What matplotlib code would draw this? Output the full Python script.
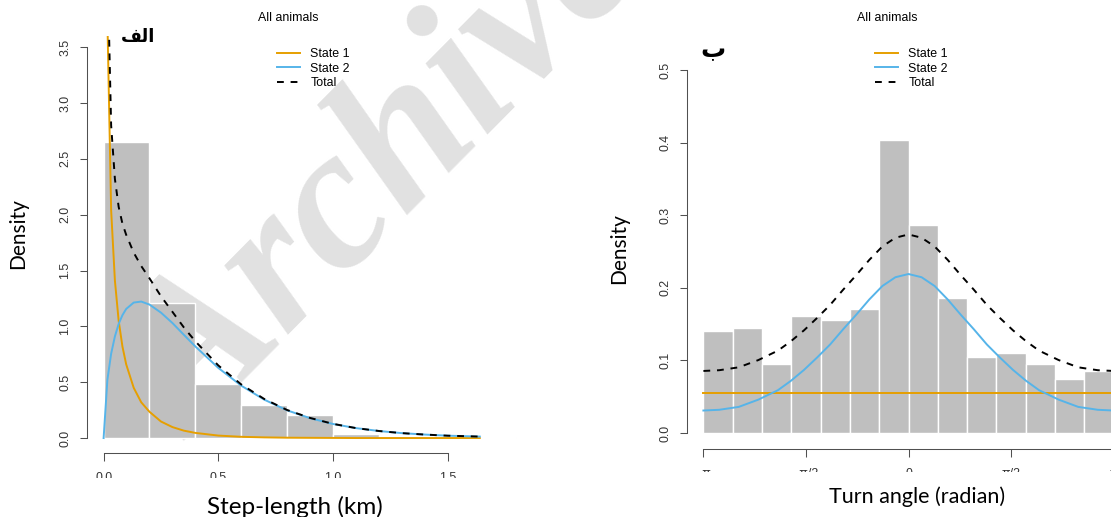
import numpy as np
import matplotlib.pyplot as plt
from matplotlib.patches import Rectangle

# ---- data ----------------------------------------------------------------
# step-length histogram (density), bins of 0.2 km
step_edges = [0.0, 0.2, 0.4, 0.6, 0.8, 1.0, 1.2, 1.4, 1.6, 1.8]
step_dens = [2.65, 1.205, 0.48, 0.298, 0.206, 0.034, 0.018, 0.012, 0.008]

# fitted step-length densities (weighted by state)
step_x = [0.0, 0.0164, 0.0328, 0.0492, 0.0656, 0.082, 0.0984, 0.1312, 0.164,
          0.2, 0.25, 0.3, 0.35, 0.4, 0.5, 0.6, 0.7, 0.8, 0.9, 1.0, 1.1,
          1.2, 1.3, 1.4, 1.5, 1.64]
step_s1 = [np.nan, 3.75, 2.04, 1.41, 1.05, 0.82, 0.66, 0.45, 0.32,
           0.235, 0.148, 0.098, 0.066, 0.046, 0.022, 0.011, 0.006, 0.003,
           0.002, 0.001, 0.0, 0.0, 0.0, 0.0, 0.0, 0.0]
step_s2 = [0.0, 0.52, 0.755, 0.91, 1.022, 1.10, 1.156, 1.213, 1.222,
           1.195, 1.123, 1.03, 0.924, 0.82, 0.628, 0.469, 0.344, 0.248,
           0.178, 0.126, 0.089, 0.063, 0.044, 0.031, 0.021, 0.013]
step_tot = [np.nan, 4.27, 2.80, 2.32, 2.07, 1.92, 1.82, 1.66, 1.54,
            1.43, 1.27, 1.13, 0.99, 0.866, 0.65, 0.48, 0.35, 0.251,
            0.18, 0.127, 0.089, 0.063, 0.044, 0.031, 0.021, 0.013]

# turn-angle histogram (density), 14 bins from -pi to pi
angle_dens = [0.140, 0.145, 0.095, 0.161, 0.155, 0.171, 0.404,
              0.287, 0.186, 0.105, 0.110, 0.095, 0.074, 0.085]

# fitted turn-angle densities
angle_x = [-3.1416, -2.9, -2.6, -2.3, -2.0, -1.8, -1.6, -1.4, -1.2, -1.0,
           -0.8, -0.6, -0.4, -0.2, 0.0, 0.2, 0.4, 0.6, 0.8, 1.0, 1.2, 1.4,
           1.6, 1.8, 2.0, 2.3, 2.6, 2.9, 3.1416]
angle_s1 = [0.0545] * len(angle_x)
angle_s2 = [0.031, 0.032, 0.036, 0.046, 0.059, 0.072, 0.087, 0.104, 0.122,
            0.143, 0.163, 0.184, 0.2025, 0.2146, 0.219, 0.2146, 0.2025,
            0.184, 0.163, 0.143, 0.122, 0.104, 0.087, 0.072, 0.059, 0.046,
            0.036, 0.032, 0.031]
angle_tot = [0.0855, 0.0865, 0.0905, 0.1005, 0.1135, 0.1265, 0.1415, 0.1585,
             0.1765, 0.1975, 0.2175, 0.2385, 0.257, 0.269, 0.2735, 0.269,
             0.257, 0.2385, 0.2175, 0.1975, 0.1765, 0.1585, 0.1415, 0.1265,
             0.1135, 0.1005, 0.0905, 0.0865, 0.0855]

step_ticks = [0.0, 0.5, 1.0, 1.5]
step_ticklabels = ['0.0', '0.5', '1.0', '1.5']
angle_ticks = [-np.pi, -np.pi / 2, 0, np.pi / 2, np.pi]
angle_ticklabels = ['\u2212\u03c0', '\u2212\u03c0/2', '0', '\u03c0/2', '\u03c0']

# ---- style ----------------------------------------------------------------
c1 = '#E69F00'
c2 = '#56B4E9'
bar_c = '#bfbfbf'
axis_c = '#505050'
r_font = 'Liberation Sans'
lab_font = 'Lato'

W, H = 1111, 517
fig = plt.figure(figsize=(W / 100, H / 100), dpi=100)


def px_box(l, t, r, b):
    return [l / W, 1 - b / H, (r - l) / W, (b - t) / H]


def style_axes(ax, xb, yb, xt, xtl, yt):
    ax.patch.set_visible(False)
    for s in ['top', 'right']:
        ax.spines[s].set_visible(False)
    for s in ['left', 'bottom']:
        ax.spines[s].set_color(axis_c)
        ax.spines[s].set_linewidth(0.75)
    ax.spines['bottom'].set_bounds(*xb)
    ax.spines['left'].set_bounds(*yb)
    ax.set_xticks(xt)
    ax.set_xticklabels(xtl, family=r_font, fontsize=8.9, color='#333333')
    ax.set_yticks(yt)
    ax.set_yticklabels([f'{v:.1f}' for v in yt], family=r_font,
                       fontsize=8.9, color='#333333', rotation=90, va='center')
    ax.tick_params(direction='out', length=5.4, width=0.75, color=axis_c)
    ax.tick_params(axis='y', pad=6.0)
    ax.tick_params(axis='x', pad=8.0)


def add_legend(ax, x_px):
    ax.legend(loc='upper left', bbox_to_anchor=(x_px / W, 1 - 48 / H),
              bbox_transform=fig.transFigure, frameon=False,
              prop={'family': r_font, 'size': 8.9}, handlelength=1.85,
              handletextpad=0.85, labelspacing=0.22, borderpad=0,
              borderaxespad=0)


# ---- left panel: step length ---------------------------------------------
ax1 = fig.add_axes(px_box(87.1, 36, 533, 453))
ax1.bar(step_edges[:-1], step_dens, width=np.diff(step_edges), align='edge',
        color=bar_c, edgecolor='white', linewidth=1.0, zorder=1)
ax1.plot(step_x, step_s1, color=c1, lw=1.4, label='State 1', zorder=3)
ax1.plot(step_x, step_s2, color=c2, lw=1.4, label='State 2', zorder=3)
ax1.plot(step_x, step_tot, color='black', lw=1.4, ls=(0, (3.5, 3.5)),
         label='Total', zorder=4)
ax1.set_xlim(-0.072, 1.872)
ax1.set_ylim(-0.134, 3.6)
style_axes(ax1, (0, 1.5), (0, 3.5), step_ticks, step_ticklabels,
           [0.0, 0.5, 1.0, 1.5, 2.0, 2.5, 3.0, 3.5])
add_legend(ax1, 277)

# ---- right panel: turn angle ---------------------------------------------
ax2 = fig.add_axes(px_box(687, 33.7, 1130, 449))
angle_edges = np.linspace(-np.pi, np.pi, len(angle_dens) + 1)
ax2.bar(angle_edges[:-1], angle_dens, width=np.diff(angle_edges),
        align='edge', color=bar_c, edgecolor='white', linewidth=1.0, zorder=1)
ax2.plot(angle_x, angle_s1, color=c1, lw=1.4, label='State 1', zorder=3)
ax2.plot(angle_x, angle_s2, color=c2, lw=1.4, label='State 2', zorder=3)
ax2.plot(angle_x, angle_tot, color='black', lw=1.4, ls=(0, (3.5, 3.5)),
         label='Total', zorder=4)
ax2.set_xlim(-np.pi - 0.2513, np.pi + 0.2513)
ax2.set_ylim(-0.022, 0.55)
style_axes(ax2, (-np.pi, np.pi), (0, 0.5), angle_ticks, angle_ticklabels,
           [0.0, 0.1, 0.2, 0.3, 0.4, 0.5])
add_legend(ax2, 875)

# ---- titles, panel letters, axis labels ----------------------------------
fig.text(288 / W, 1 - 18 / H, 'All animals', family=r_font, fontsize=8.9,
         ha='center', va='center')
fig.text(887 / W, 1 - 18 / H, 'All animals', family=r_font, fontsize=8.9,
         ha='center', va='center')
fig.text(138 / W, 1 - 37 / H, '\ufed2\ufedf\ufe8d', family='DejaVu Sans',
         fontweight='bold', fontsize=13, ha='center', va='center')
fig.text(713 / W, 1 - 50 / H, '\u0628', family='DejaVu Sans',
         fontweight='bold', fontsize=18, ha='center', va='center')

fig.text(18 / W, 1 - 234 / H, 'Density', family=lab_font, fontsize=15,
         rotation=90, ha='center', va='center')
fig.text(619 / W, 1 - 249 / H, 'Density', family=lab_font, fontsize=15,
         rotation=90, ha='center', va='center')

# the tick labels are cropped half way in the original
fig.add_artist(Rectangle((0, 0), 600 / W, 39 / H, transform=fig.transFigure,
                         facecolor='white', edgecolor='none', zorder=5))
fig.add_artist(Rectangle((600 / W, 0), 511 / W, 45 / H,
                         transform=fig.transFigure, facecolor='white',
                         edgecolor='none', zorder=5))

fig.text(295 / W, 1 - 514 / H, 'Step-length (km)', family=lab_font,
         fontsize=17.5, ha='center', va='baseline', zorder=6)
fig.text(917 / W, 1 - 503 / H, 'Turn angle (radian)', family=lab_font,
         fontsize=15.5, ha='center', va='baseline', zorder=6)

# watermark (behind the bars)
fig.text(194 / W, 1 - 441 / H, 'Archive', family='Liberation Serif',
         fontweight='bold', style='italic', fontsize=146, color='#e1e1e1',
         rotation=45.3, rotation_mode='anchor', ha='left', va='baseline',
         zorder=-1)

fig.savefig('out.png', dpi=100)
